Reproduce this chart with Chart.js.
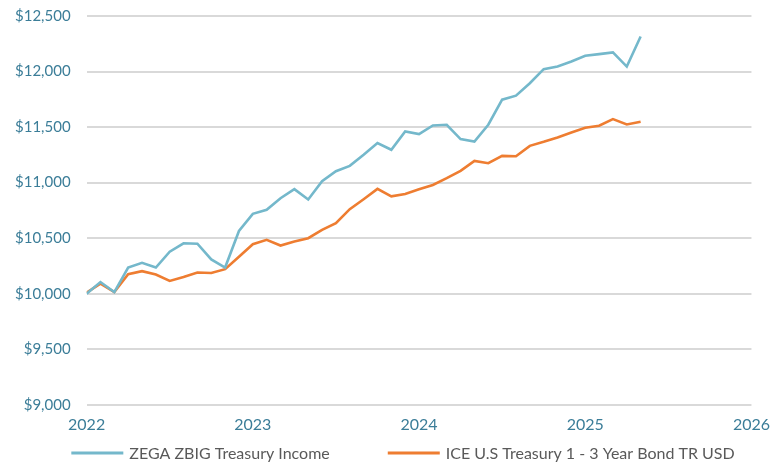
<!DOCTYPE html>
<html>
<head>
<meta charset="utf-8">
<script src="https://cdn.jsdelivr.net/npm/chart.js@4.4.1/dist/chart.umd.min.js"></script>
<style>
  html, body { margin: 0; padding: 0; background: #ffffff; }
  #wrap { width: 772px; height: 464px; }
</style>
</head>
<body>
<div id="wrap"><canvas id="myChart" width="772" height="464"></canvas></div>
<script>
// Fechas mensuales (año-mes)
const months = [
    '2022-01', '2022-02', '2022-03', '2022-04', '2022-05', '2022-06', '2022-07', '2022-08', '2022-09', '2022-10', '2022-11', '2022-12',
    '2023-01', '2023-02', '2023-03', '2023-04', '2023-05', '2023-06', '2023-07', '2023-08', '2023-09', '2023-10', '2023-11', '2023-12',
    '2024-01', '2024-02', '2024-03', '2024-04', '2024-05', '2024-06', '2024-07', '2024-08', '2024-09', '2024-10', '2024-11', '2024-12',
    '2025-01', '2025-02', '2025-03', '2025-04', '2025-05'
];

const zegaValues = [
    10000, 10105, 10015, 10236, 10278, 10236, 10378, 10454, 10450, 10309, 10236, 10565,
    10719, 10755, 10860, 10941, 10848, 11012, 11103, 11151, 11251, 11357, 11296, 11460,
    11437, 11515, 11521, 11392, 11370, 11521, 11747, 11783, 11895, 12021, 12045, 12090,
    12142, 12157, 12172, 12045, 12316
];

const iceValues = [
    10010, 10091, 10015, 10175, 10203, 10173, 10115, 10151, 10191, 10187, 10221, 10333,
    10446, 10485, 10434, 10470, 10500, 10575, 10635, 10761, 10851, 10944, 10877, 10898,
    10940, 10979, 11040, 11106, 11196, 11175, 11241, 11238, 11331, 11367, 11407, 11452,
    11494, 11512, 11572, 11524, 11548
];

const seriesNames = ['ZEGA ZBIG Treasury Income', 'ICE U.S Treasury 1 - 3 Year Bond TR USD'];
const yearTicks = [2022, 2023, 2024, 2025, 2026];

// mes -> año decimal
const toYear = (m) => {
    const [y, mo] = m.split('-').map(Number);
    return y + (mo - 1) / 12;
};
const toPoints = (vals) => vals.map((v, i) => ({ x: toYear(months[i]), y: v }));

const labelColor = '#3b7d98';
const fontFamily = "Lato, 'Open Sans', sans-serif";

// Leyenda propia: mucho espacio entre items, poco alto
const bottomLegend = {
    id: 'bottomLegend',
    afterDraw(chart) {
        const c = chart.ctx;
        const sets = chart.data.datasets;
        const lineLen = 52, textGap = 6, itemGap = 58;
        c.save();
        c.font = '16px ' + fontFamily;
        c.textBaseline = 'middle';
        const widths = sets.map(ds => c.measureText(ds.label).width);
        let total = itemGap * (sets.length - 1);
        widths.forEach(w => { total += lineLen + textGap + w; });
        let x = (chart.width - total) / 2 + 17;
        const y = chart.height - 11;
        sets.forEach((ds, i) => {
            c.fillStyle = ds.borderColor;
            c.fillRect(x, y - 1.5, lineLen, 3);
            x += lineLen + textGap;
            c.fillStyle = '#595959';
            c.fillText(ds.label, x, y + 1);
            x += widths[i] + itemGap;
        });
        c.restore();
    }
};

const ctx = document.getElementById('myChart').getContext('2d');
const myChart = new Chart(ctx, {
    type: 'line',
    data: {
        datasets: [{
            label: seriesNames[0],
            data: toPoints(zegaValues),
            borderColor: '#74b8cb',
            backgroundColor: '#74b8cb',
            borderWidth: 2.6,
            pointRadius: 0,
            tension: 0
        }, {
            label: seriesNames[1],
            data: toPoints(iceValues),
            borderColor: '#ee7d31',
            backgroundColor: '#ee7d31',
            borderWidth: 2.6,
            pointRadius: 0,
            tension: 0
        }]
    },
    options: {
        responsive: false,
        animation: false,
        layout: {
            padding: { top: 16, right: -2, left: 12, bottom: 28 }
        },
        plugins: {
            legend: { display: false },
            tooltip: { enabled: false }
        },
        scales: {
            x: {
                type: 'linear',
                min: yearTicks[0],
                max: yearTicks[yearTicks.length - 1],
                afterBuildTicks: (axis) => {
                    axis.ticks = yearTicks.map(v => ({ value: v }));
                },
                ticks: {
                    color: labelColor,
                    padding: 2,
                    maxRotation: 0,
                    font: { size: 16, family: fontFamily },
                    callback: (v) => String(v)
                },
                grid: { display: false },
                border: { display: false }
            },
            y: {
                min: 9000,
                max: 12500,
                ticks: {
                    stepSize: 500,
                    color: labelColor,
                    padding: 3,
                    font: { size: 15, family: fontFamily },
                    callback: (v) => '$' + v.toLocaleString('en-US')
                },
                grid: {
                    color: '#d9d9d9',
                    lineWidth: 2,
                    drawTicks: true,
                    tickLength: 13,
                    tickColor: 'rgba(0,0,0,0)'
                },
                border: { display: false }
            }
        }
    },
    plugins: [bottomLegend]
});
</script>
</body>
</html>
